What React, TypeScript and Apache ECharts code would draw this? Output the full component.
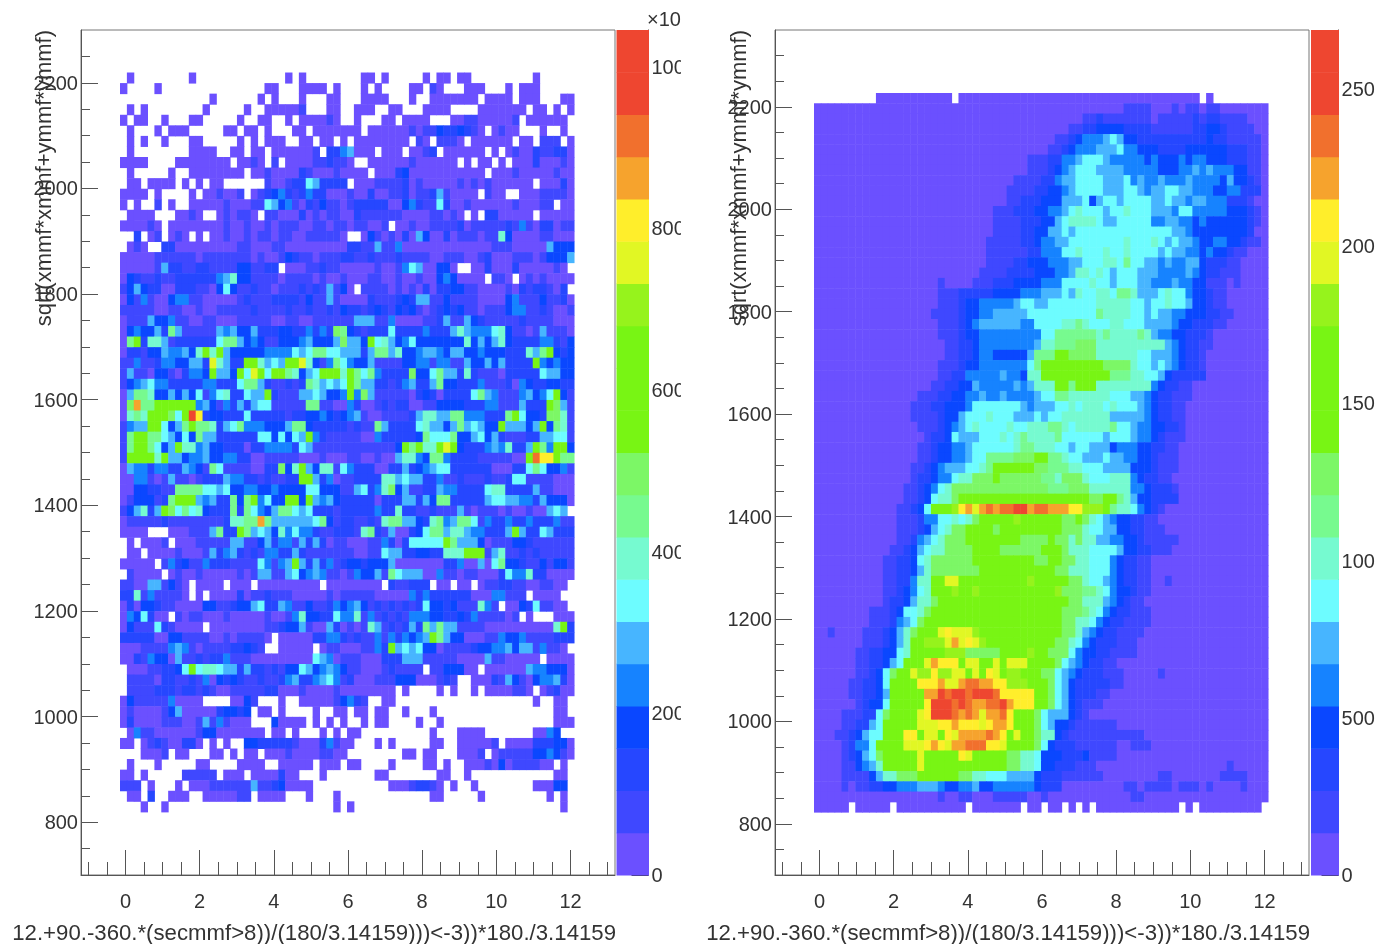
import React, { useEffect, useRef } from "react";
import * as echarts from "echarts";

const PALETTE = ["#6b50ff","#3f48ff","#2647ff","#0a47ff","#1683ff","#47b5ff","#6dfcff","#76fad0","#77fa8f","#7cf766","#78f514","#78f514","#78f514","#96f31c","#e1f724","#ffee2b","#f6a32d","#f1702d","#ee4630","#ee4630"];
const X_TITLE = "12.+90.-360.*(secmmf>8))/(180/3.14159)))<-3))*180./3.14159";
const Y_TITLE = "sqrt(xmmf*xmmf+ymmf*ymmf)";
const X_MAJOR = [0, 2, 4, 6, 8, 10, 12];
const X_MINOR = [-1, -0.5, 0.5, 1, 1.5, 2.5, 3, 3.5, 4.5, 5, 5.5, 6.5, 7, 7.5, 8.5, 9, 9.5, 10.5, 11, 11.5, 12.5, 13];
const Y_MAJOR = [800, 1000, 1200, 1400, 1600, 1800, 2000, 2200];
const Y_MINOR_LEFT = [750, 850, 900, 950, 1050, 1100, 1150, 1250, 1300, 1350, 1450, 1500, 1550, 1650, 1700, 1750, 1850, 1900, 1950, 2050, 2100, 2150, 2250];
const Y_MINOR_RIGHT = [...Y_MINOR_LEFT, 2300];
const BAR_TICKS_LEFT = [0, 200, 400, 600, 800, 1000];
const BAR_TICKS_RIGHT = [0, 500, 1000, 1500, 2000, 2500];

// left panel: one character per cell, top row first; "." = empty bin, otherwise palette level (base 36)
const LEFT_ROWS = [
".0........ 0......... ....0.0... .....00.0. ....0.00.0 0......... 0.....",
"0....0.... .......... .00...0000 .0...0.0.. ..00.10... 000...0.00 0.....",
".......... ...0...... 0.0...0... 00...0000. ..0..00000 00.0000.00 0...00",
".0.0...... ..0.....0. .000001... 00..000..0 0...0000.. ..0000000. 00.0.0",
"0.00..0... 00.....0.. 00..0.0000 10..0...00 .0000...00 11000001.0 00000.",
".0...0.000 .....00.00 .0...00.00 00000.0000 0010113223 210.0100.. .0..0.",
".0.0..0... 00.....0.0 .000..00.0 0.0.000000 00.10.1110 .000000.00 .111.0",
".0........ 0000..00.0 0.0000001. 2245000.00 0.0012.000 000.0.0100 211220",
"0000....00 000000.001 0.1.000011 2110..0000 001000000. 0.00.0.000 200010",
".0.....0.. 00000000.0 0100002100 010000.000 2300000000 000.000100 000100",
".00.0000.0 .0.00..... .100122652 222.000111 1201000001 0101000000 .00020",
"0000.0.... 0.001001.0 1234212422 0001002001 1201125100 00.100..00 011110",
"0.0..1.0.. 0000010001 1653410213 1101222220 0342116200 1000000100 011.00",
".0000...00 10..010110 .110002010 1100211111 1000011010 .0.2200000 .00000",
"000010.000 0000010010 0101110011 011011001. 0010011112 0111112141 022011",
"..2.01.010 .0.0010010 1101100111 110..03101 0205300201 1101173000 011000",
".010..2200 0000000110 0011000000 0002211511 4000000000 0000111000 005333",
"0000011111 1011111110 1001321101 1122112111 2111100111 0012000111 013335",
"0000015221 1221111331 122.000112 1100000100 146500330. .002000200 00010.",
"0321121122 2222457331 1110111101 0010001100 1001003430 000.110.01 010000",
"1353220022 2110363112 1101112121 5130.11110 1010202233 1100001021 22102.",
"0314100344 1100000121 1122221311 5100002111 2325511311 1100003411 131120",
"1111100110 0100111112 1111211211 2132212321 3231012323 1101113441 121001",
"0111533411 0011000111 1100110011 1111555114 0000112511 5321111121 111000",
"0343352851 1111545335 2223322424 2983212226 2222422257 5444673110 151110",
"08a2775122 2222688534 3113334533 359553a675 3463333333 7353573222 244213",
"0221335445 37a7a53333 3444465688 6655525885 7334554355 3343332227 58a323",
"1141124433 552e7522aa 7565aae731 4864335111 1334414411 5335352222 a43433",
"1511033102 443a553a6e a6aa87356a aa7a868422 2293368552 7211102222 265533",
"1345644222 2244222688 5211212875 656a855221 2452258332 2241112043 223322",
"0588733535 3614672265 5a21115565 334a495111 1102320222 2685411145 346a31",
"09g88aaaaa a453142525 6611111881 1004200121 2200113333 2224411152 22a951",
"0787aaa96a if23322262 2222122334 3234510011 1125775588 4442228a63 329971",
"1455aa6358 a887256844 4333588322 2221211852 2226755358 56533a5553 5a3871",
"18aa886536 3855222222 6636365a42 1111100422 2223866683 3563521112 255661",
"18aa8635a7 7453322202 2444426511 1111111111 3a8a77aea3 2224547225 a84aa3",
"1aaaa7a553 4453344220 0111110001 0001100100 5774388422 221111100a hffa88",
"0544244225 4318611110 022937a537 7164222002 2523456622 2222000226 863341",
"0044101511 0122254422 121122aa52 4011222277 5655224112 1112112661 111000",
"0033221188 8866563344 3343333663 3311562479 3511225442 2226772222 511000",
"0133312 8aa a54522838a 4633aa3a54 5322222022 2552538822 2225665544 253330",
"135725a968 6732228286 4358865622 2122222422 7221121115 1011101001 00565.",
"0111112111 1111127788 g855555568 3122112178 8553278458 8614224224 222411",
"0000...000 1115822a85 6537464421 1222178215 0023688577 5442225a52 265222",
".0.0001.00 0111115511 3524415252 0110001142 0266666a85 5530111332 111111",
".00.000010 0015245212 1442252111 1111001165 5223322777 aaa1571121 211111",
"00000.1423 1142221111 64145a5252 4123323335 0000000224 0050683321 131331",
".10000.010 0100000101 5511563454 1101433518 6555004110 1100026447 220000",
"1100551310 .0000.000. 000000000. 00000000.2 11222.00.0 0.01122110 01100.",
"2271411110 .0.0000201 1211100000 1011111000 0042422222 200044111. 0000..",
"0203321100 0033112335 6225411311 2434531212 1212633231 11741.0032 61100.",
"0436200.10 1100010000 0100147332 2644714121 2144433223 24111101.0 ...000",
"0311162100 00.0000000 0112335100 5201017512 1252858551 1110000000 0007a2",
"2222200331 1110010111 10.0000022 4421211414 24345a8533 0001143341 111222",
"0001111454 1011112232 1..00000.0 110001142a 5656330111 1233445355 14110.",
"0021433051 1212241110 0000000065 4011100022 2555111110 0005110000 0.0000",
".000112236 a677655252 2121336534 5431100012 1111.11333 00.0000005 443330",
".111102211 2140323211 2112452245 6412000111 333000121. .000215310 344520",
".111122212 2121001111 1220001000 0100000000 .0....0.0. .0.0000110 .01200",
"0311111400 00....0031 ...0..0000 013421..00 .......... .......... 0..00.",
"0100001350 000023323. 00.0....0. .00.00.00. .0...0.... .......... ...00.",
"0200001110 015141000. ..30000.0. 0.0..0.00. ...0..0... .......... ...000",
".041100000 0133000000 0.00.0...0 .0.00..... .....0...0 000....... 0043..",
"00.0121002 20.0.0..33 2222210002 4100...0.0 .....00..0 00001.0000 222330",
"...0001.00 ...00.0.00 .000100001 100....... .00.00...0 001.011111 334310",
".0...0.... .00....000 0..00000.0 00.00....0 ....00.0.. 0001030111 100.0.",
"00.0.....1 1111.000.0 000200...0 .......00. ......00.. 0......... ...00.",
"111.0...0. 0001111115 11230000.. .........0 0012210.0. .0........ 00033.",
".00.2..000 ..0000011. 0000...0.. .0........ .....00... ..0....... ..0.0.",
"...0..0... .......... .......... .0.0...... .......... .......... ....0.",
];

// right panel: runs "level:endColumn", top row first; "." = empty bin
const RIGHT_RUNS = [
".:9 0:20 .:21 0:56 .:57 0:58 .:66",
"0:45 1:49 0:52 1:53 0:54 1:56 0:57 1:59 0:66",
"0:39 1:41 2:42 1:49 0:50 1:55 2:56 1:57 2:59 1:63 0:66",
"0:37 1:39 2:41 3:45 2:49 1:55 2:57 3:59 2:60 1:64 0:66",
"0:35 1:37 2:38 3:39 4:42 5:43 6:44 5:45 3:47 2:57 3:58 2:60 1:65 0:66",
"0:34 1:36 2:37 3:38 4:41 5:44 6:45 4:47 3:50 2:54 3:60 2:63 1:65 0:66",
"0:31 1:34 2:36 4:38 5:39 6:42 5:43 4:48 3:49 4:50 3:53 4:54 3:55 4:57 3:60 2:63 1:65 0:66",
"0:31 1:34 2:35 3:36 4:37 5:38 6:41 5:45 4:50 3:53 4:55 5:56 4:57 5:58 4:61 3:63 1:65 0:66",
"0:29 1:33 2:35 4:36 5:38 6:42 5:45 6:46 4:47 5:48 4:50 5:51 4:54 5:55 4:59 3:60 5:61 3:63 2:64 1:65 0:66",
"0:28 1:32 2:34 3:36 4:37 5:38 6:42 5:45 6:47 5:48 4:49 5:51 6:53 5:55 4:58 3:60 4:62 2:65 0:66",
"0:28 1:30 2:33 3:36 5:39 6:40 3:41 5:42 6:44 5:45 6:49 5:51 6:52 5:54 4:55 5:57 4:60 2:63 1:64 0:66",
"0:26 1:29 2:32 3:34 4:36 5:37 6:38 7:39 6:42 5:43 6:45 7:46 6:49 5:52 4:53 6:55 4:60 3:63 2:64 1:65 0:66",
"0:26 1:30 2:33 3:35 5:36 6:37 7:41 6:42 5:44 6:49 4:51 5:53 4:55 3:56 4:57 3:63 2:64 1:65 0:66",
"0:26 1:30 2:32 3:34 5:36 6:37 5:38 6:52 5:54 4:55 3:63 2:64 0:66",
"0:25 1:30 2:32 3:33 4:35 5:37 6:45 7:46 6:49 7:50 6:51 5:52 6:53 5:55 4:56 3:58 4:60 3:62 2:63 1:65 0:66",
"0:25 1:31 2:33 4:36 6:38 7:39 6:42 7:43 6:45 7:46 6:50 5:51 6:52 5:54 4:56 3:57 4:58 3:60 2:61 1:63 0:66",
"0:25 1:29 2:31 3:34 4:37 5:39 6:42 7:44 6:45 8:46 6:48 5:50 4:51 5:52 4:54 5:56 3:57 2:60 1:62 0:66",
"0:24 1:28 2:32 3:35 4:37 5:38 7:40 6:41 7:42 6:43 5:44 6:47 5:50 4:54 5:55 4:56 3:57 2:59 1:62 0:66",
"0:18 1:19 0:23 1:26 2:29 3:33 4:36 6:40 7:41 6:43 5:44 6:47 5:49 4:52 5:53 4:55 3:57 1:60 0:61 1:62 0:66",
"0:18 1:21 2:26 3:30 4:33 5:36 6:37 5:38 7:39 6:41 7:43 6:44 8:46 7:47 5:50 6:51 7:52 6:54 4:55 3:57 2:58 1:60 0:66",
"0:18 1:21 2:22 3:24 4:29 5:30 6:32 5:34 6:41 7:46 6:48 5:49 6:51 7:52 6:54 5:55 3:57 2:58 1:60 0:66",
"0:17 1:21 2:22 3:24 4:26 5:31 6:41 8:42 7:46 6:48 5:49 6:50 5:52 4:54 3:57 2:59 1:61 0:66",
"0:18 1:21 2:22 3:23 4:24 5:30 4:32 6:36 7:38 8:39 7:40 6:43 7:45 6:48 5:52 4:53 3:55 2:58 1:60 0:66",
"0:18 1:21 2:22 3:24 4:33 6:35 8:41 7:42 8:43 7:47 8:48 7:49 5:50 4:52 3:54 2:57 1:58 0:66",
"0:19 1:21 2:23 3:24 4:32 5:33 7:35 8:38 9:41 7:51 5:52 4:53 3:54 2:56 1:58 0:66",
"0:19 1:21 2:23 3:24 4:26 3:31 5:32 8:35 a:37 9:41 7:47 6:49 5:52 4:53 3:54 2:56 1:57 0:66",
"0:18 1:21 2:22 3:24 4:31 6:32 8:33 a:42 9:46 7:47 6:49 5:50 6:51 5:52 4:53 3:54 2:56 1:57 0:66",
"0:18 1:20 2:22 4:27 5:28 4:30 3:31 7:33 a:43 8:46 7:48 6:50 5:51 3:52 2:57 0:66",
"0:17 1:19 2:21 3:23 5:24 4:29 5:30 4:31 5:32 7:35 a:37 8:38 a:41 7:49 4:50 3:51 2:53 1:55 0:66",
"0:15 1:18 2:20 3:22 4:24 5:25 4:27 5:28 4:32 5:33 6:35 8:37 7:43 6:46 5:48 4:49 3:50 2:52 1:55 0:66",
"0:14 1:17 2:19 3:22 4:23 6:30 5:31 4:32 5:35 6:37 7:38 6:39 7:42 6:43 7:44 6:47 5:48 4:49 3:50 2:52 1:54 0:66",
"0:14 1:18 2:19 3:21 5:22 6:25 7:26 6:29 5:32 6:33 5:34 6:36 7:43 5:48 4:49 3:50 2:52 1:54 0:66",
"0:15 1:18 2:19 3:20 4:21 5:22 6:23 7:24 6:28 7:29 6:31 7:34 8:36 7:37 6:38 7:43 8:44 6:46 5:47 4:49 3:51 2:53 1:54 0:66",
"0:16 1:17 2:19 3:20 6:21 5:24 6:27 7:28 6:29 7:30 8:31 7:35 8:36 6:42 5:43 6:46 5:47 4:49 3:50 2:51 1:54 0:66",
"0:15 1:17 2:18 3:20 4:22 5:23 6:29 7:30 8:32 7:35 6:37 5:38 6:40 5:43 3:44 4:47 3:49 2:51 1:53 0:66",
"0:15 1:17 2:18 3:20 4:22 5:23 6:25 8:29 9:32 a:34 8:36 7:37 6:39 5:42 6:43 5:45 4:47 3:49 2:50 1:53 0:66",
"0:14 1:16 2:17 3:18 4:19 5:22 6:24 7:25 8:26 a:32 9:34 8:37 7:39 6:42 5:46 3:49 2:50 1:53 0:66",
"0:14 1:15 2:17 3:18 4:20 6:21 7:23 9:26 a:27 9:33 8:35 7:36 9:39 7:40 6:43 7:46 4:47 3:48 2:50 1:52 0:66",
"0:13 1:15 2:16 3:17 4:18 6:19 7:20 9:34 8:37 9:40 7:46 4:48 3:49 2:52 1:53 0:66",
"0:13 1:15 2:16 3:17 6:18 7:20 9:21 a:40 9:42 a:44 8:45 7:46 5:47 3:49 2:53 0:66",
"0:12 1:14 2:15 3:16 6:17 a:20 d:21 f:22 g:23 e:24 g:25 h:26 g:27 h:29 i:31 g:32 h:34 g:37 f:39 d:42 a:43 8:44 7:46 6:47 4:48 3:49 2:50 1:51 0:66",
"0:12 1:15 2:16 4:18 6:20 7:21 6:22 7:23 9:24 a:29 d:30 a:36 9:38 a:39 9:40 7:41 6:42 5:43 4:44 3:46 2:48 1:50 0:66",
"0:12 1:15 2:16 3:17 5:18 6:19 7:20 9:22 a:26 9:27 a:36 9:39 7:40 6:42 5:44 3:46 2:48 1:51 0:66",
"0:12 1:14 2:15 4:16 5:17 6:18 7:19 9:22 a:30 9:34 a:35 9:37 7:38 9:39 7:41 5:43 4:45 3:47 2:48 1:53 0:66",
"0:11 1:13 2:14 3:15 5:16 6:17 7:19 9:23 a:27 9:33 a:36 9:37 7:40 6:44 5:45 3:47 2:49 1:52 0:66",
"0:10 1:12 2:14 3:15 6:16 7:17 9:23 a:32 9:34 a:36 9:38 7:40 6:43 4:44 3:45 2:47 1:49 0:66",
"0:10 1:12 2:14 3:15 5:16 7:17 9:24 a:35 9:37 7:40 6:43 4:44 3:45 2:47 1:49 0:66",
"0:10 1:12 2:14 4:15 7:17 a:19 e:21 a:31 d:32 a:37 9:39 7:40 6:42 5:43 4:44 3:45 2:47 1:49 0:51 1:52 0:66",
"0:10 1:12 2:13 3:14 4:15 6:16 7:17 a:20 d:21 a:23 d:24 a:35 d:36 9:39 8:41 7:42 6:43 4:44 3:46 2:47 1:49 0:66",
"0:10 1:11 2:13 3:14 5:15 7:17 9:18 a:37 9:39 7:42 5:43 4:44 3:45 2:46 1:48 0:66",
"0:8 1:11 2:12 3:13 6:15 7:16 9:17 a:36 9:39 8:40 7:41 6:42 4:43 3:44 2:46 1:49 0:66",
"0:8 1:11 2:12 4:13 5:14 6:15 9:16 a:36 9:38 7:40 6:41 4:42 3:43 2:45 1:49 0:66",
"0:2 1:3 0:7 1:10 2:11 3:12 5:13 7:14 9:15 a:18 e:19 f:20 e:23 d:24 a:36 9:38 7:39 5:40 4:41 3:42 2:44 1:48 0:66",
"0:7 1:10 2:11 3:12 5:13 7:14 a:16 d:19 e:20 g:21 e:22 f:23 e:24 d:25 a:35 9:37 7:38 6:39 4:40 3:41 2:44 1:47 0:66",
"0:6 1:8 2:10 3:12 6:13 7:14 a:19 d:22 9:27 a:31 d:32 a:34 9:37 6:38 4:39 3:41 2:43 1:47 0:66",
"0:6 1:8 2:10 3:11 5:12 6:13 a:16 e:17 g:18 f:21 a:22 e:24 a:26 e:27 a:28 e:31 a:35 9:36 6:37 5:38 4:39 3:40 2:42 1:44 0:66",
"0:6 1:8 2:9 3:10 6:11 9:12 a:14 e:15 d:17 f:18 d:20 e:22 a:23 e:24 a:25 f:26 e:27 a:28 d:30 a:33 9:35 6:36 5:37 4:38 3:39 2:42 1:45 0:50 1:51 0:66",
"0:5 1:7 2:9 3:10 6:11 a:15 f:18 g:19 e:21 g:22 h:24 g:26 f:28 d:31 a:34 9:35 6:36 5:37 3:38 2:43 1:45 0:66",
"0:5 1:7 2:9 3:10 5:11 a:16 g:18 i:19 h:20 i:22 h:23 i:26 h:27 f:32 a:34 9:35 6:36 5:37 3:38 2:41 1:43 0:66",
"0:6 1:7 2:8 3:10 6:11 a:16 f:17 i:20 h:21 i:22 h:23 g:25 h:27 i:28 g:29 f:32 a:34 9:35 6:36 5:37 3:38 2:39 1:42 0:66",
"0:4 1:7 2:9 6:10 9:11 a:15 e:16 f:17 i:20 h:21 g:22 h:23 g:24 e:25 g:27 h:28 f:29 a:32 9:33 6:34 5:37 3:38 2:39 1:40 0:66",
"0:4 1:6 2:8 5:9 6:10 a:15 e:18 f:20 g:21 f:24 e:25 f:26 g:28 f:29 a:32 9:33 6:34 5:35 3:37 2:38 1:44 0:66",
"0:3 1:5 2:6 3:7 5:8 6:10 a:13 f:15 a:16 e:18 a:19 f:20 e:21 g:25 h:26 g:27 f:28 a:29 e:30 a:32 9:33 7:35 3:36 2:37 1:48 0:66",
"0:4 1:5 2:6 4:8 6:9 a:13 e:16 f:17 g:18 f:19 e:20 g:22 h:25 f:27 e:28 a:32 9:33 6:34 3:35 2:38 1:44 0:46 1:49 0:66",
"0:4 1:5 2:6 3:7 5:8 6:9 9:10 a:15 e:16 a:21 f:22 e:23 a:28 9:30 7:32 6:33 3:36 2:39 3:40 1:44 0:66",
"0:4 1:6 3:7 4:8 5:9 7:10 a:15 e:16 a:28 9:30 7:32 6:33 3:35 2:38 1:41 0:60 1:61 0:66",
"0:4 1:8 3:9 5:10 7:12 9:15 a:21 9:23 7:25 6:28 5:32 3:33 2:36 1:42 0:50 1:52 0:59 1:63 0:66",
"0:4 1:5 0:6 1:8 2:10 3:12 4:15 5:18 4:19 3:21 4:23 5:24 3:26 4:32 3:33 2:36 0:45 1:47 0:48 1:52 0:53 1:56 0:57 1:58 0:62 1:63 0:66",
"0:18 1:19 0:21 1:23 0:26 1:31 0:33 1:34 0:46 1:48 0:66",
"0:5 .:6 0:11 .:12 0:22 .:23 0:30 .:31 0:33 .:34 0:36 .:37 0:38 .:39 0:40 .:41 0:53 .:54 0:55 .:56 0:65 .:66",
];

const X_START = -0.148;
const X_STEP = 0.1855;

function rowsToCells(rows: string[], yTop: number, rowH: number) {
  const cells: number[][] = [];
  rows.forEach((row, r) => {
    [...row].forEach((ch, c) => {
      if (ch === ".") return;
      const x = X_START + c * X_STEP;
      const y = yTop - (r + 1) * rowH;
      cells.push([x, y, x + X_STEP, y + rowH, parseInt(ch, 36)]);
    });
  });
  return cells;
}

function expandRuns(line: string) {
  let out = "";
  line.split(" ").forEach((tok) => {
    const [lvl, end] = tok.split(":");
    while (out.length < Number(end)) out += lvl;
  });
  return out;
}

function renderCell(_: any, api: any) {
  const p0 = api.coord([api.value(0), api.value(1)]);
  const p1 = api.coord([api.value(2), api.value(3)]);
  const fill = PALETTE[api.value(4)];
  // small overlap hides the anti-aliased seams between neighbouring bins
  return {
    type: "rect",
    shape: { x: p0[0], y: p1[1], width: p1[0] - p0[0] + 0.5, height: p0[1] - p1[1] + 0.5 },
    style: { fill },
  };
}

const FONT = "Liberation Sans";
const TXT = "#333";
const AX = "#555";
const plain = (v: number) => String(v);

function cellSeries(data: number[][], idx: number) {
  return {
    type: "custom",
    xAxisIndex: idx,
    yAxisIndex: idx,
    renderItem: renderCell,
    data,
    silent: true,
    clip: false,
    encode: { x: [0, 2], y: [1, 3] },
  };
}

function frameXAxis(gridIndex: number) {
  const base = { type: "value", gridIndex, min: -1.2, max: 13.2, position: "bottom", splitLine: { show: false } };
  return [
    { ...base, axisLine: { onZero: false, lineStyle: { color: AX } },
      axisTick: { inside: true, length: 25, customValues: X_MAJOR, lineStyle: { color: AX } },
      axisLabel: { customValues: X_MAJOR, formatter: plain, fontFamily: FONT, fontSize: 20, color: TXT, margin: 16 } },
    { ...base, axisLine: { show: false, onZero: false },
      axisTick: { inside: true, length: 13, customValues: X_MINOR, lineStyle: { color: AX } },
      axisLabel: { show: false } },
  ];
}

function frameYAxis(gridIndex: number, max: number, minors: number[]) {
  const base = { type: "value", gridIndex, min: 700, max, position: "left", splitLine: { show: false } };
  return [
    { ...base, axisLine: { onZero: false, lineStyle: { color: AX } },
      axisTick: { inside: true, length: 17, customValues: Y_MAJOR, lineStyle: { color: AX } },
      axisLabel: { customValues: Y_MAJOR, formatter: plain, fontFamily: FONT, fontSize: 20, color: TXT, margin: 3 } },
    { ...base, axisLine: { show: false, onZero: false },
      axisTick: { inside: true, length: 9, customValues: minors, lineStyle: { color: AX } },
      axisLabel: { show: false } },
  ];
}

function barSeries(max: number, idx: number) {
  const step = max / PALETTE.length;
  return cellSeries(PALETTE.map((_, i) => [0, i * step, 1, (i + 1) * step, i]), idx);
}

export default function App() {
  const ref = useRef<HTMLDivElement>(null);
  useEffect(() => {
    const chart = echarts.init(ref.current!, undefined, { renderer: "svg" });
    const leftCells = rowsToCells(LEFT_ROWS.map((s) => s.replace(/\s/g, "")), 2219.5, 20);
    const rightCells = rowsToCells(RIGHT_RUNS.map(expandRuns), 2227, 20.06);
    const titleStyle = { fontFamily: FONT, fill: TXT };
    const grids = [
      { left: 81, top: 30, width: 534, height: 845 },
      { left: 775, top: 30, width: 534, height: 845 },
    ].map((g) => ({ ...g, show: true, borderColor: "#777", borderWidth: 1, backgroundColor: "transparent" }));
    const bars = [
      { left: 616.5, top: 30, width: 32, height: 845 },
      { left: 1311, top: 30, width: 32, height: 845 },
    ];
    const barX = (gridIndex: number) => ({ type: "value", gridIndex, min: 0, max: 1, show: false });
    const barY = (gridIndex: number, max: number, ticks: number[]) => ({
      type: "value", gridIndex, min: 0, max, position: "right", splitLine: { show: false },
      axisLine: { show: true, onZero: false, lineStyle: { color: "#333" } },
      axisTick: { inside: true, length: 17, customValues: ticks, lineStyle: { color: "#333" } },
      axisLabel: { customValues: ticks, formatter: plain, fontFamily: FONT, fontSize: 20, color: TXT, margin: 3 },
    });
    chart.setOption({
      animation: false,
      grid: [...grids, ...bars],
      xAxis: [...frameXAxis(0), ...frameXAxis(1), barX(2), barX(3)],
      yAxis: [...frameYAxis(0, 2300, Y_MINOR_LEFT), ...frameYAxis(1, 2350, Y_MINOR_RIGHT), barY(2, 1045.6, BAR_TICKS_LEFT), barY(3, 2688, BAR_TICKS_RIGHT)],
      series: [
        cellSeries(leftCells, 0),
        cellSeries(rightCells, 2),
        barSeries(1045.6, 4),
        barSeries(2688, 5),
      ],
      graphic: [
        { type: "text", x: 43, y: 30, rotation: Math.PI / 2, z: 50, style: { ...titleStyle, text: Y_TITLE, fontSize: 22, align: "right", verticalAlign: "middle" } },
        { type: "text", x: 738, y: 30, rotation: Math.PI / 2, z: 50, style: { ...titleStyle, text: Y_TITLE, fontSize: 22, align: "right", verticalAlign: "middle" } },
        { type: "text", x: 616, y: 932, z: 50, style: { ...titleStyle, text: X_TITLE, fontSize: 22.2, align: "right", verticalAlign: "middle" } },
        { type: "text", x: 1310, y: 932, z: 50, style: { ...titleStyle, text: X_TITLE, fontSize: 22.2, align: "right", verticalAlign: "middle" } },
        { type: "text", x: 647, y: 19, z: 50, style: { ...titleStyle, text: "×10", fontSize: 20, align: "left", verticalAlign: "middle" } },
        { type: "rect", z: 100, shape: { x: 681, y: 0, width: 20, height: 900 }, style: { fill: "#fff" } },
        { type: "rect", z: 100, shape: { x: 1375, y: 0, width: 14, height: 900 }, style: { fill: "#fff" } },
      ],
    });
    return () => chart.dispose();
  }, []);
  return (
    <div
      ref={ref}
      style={{ position: "absolute", left: 0, top: 0, width: 1389, height: 944, background: "#fff", filter: "blur(0.6px)" }}
    />
  );
}
